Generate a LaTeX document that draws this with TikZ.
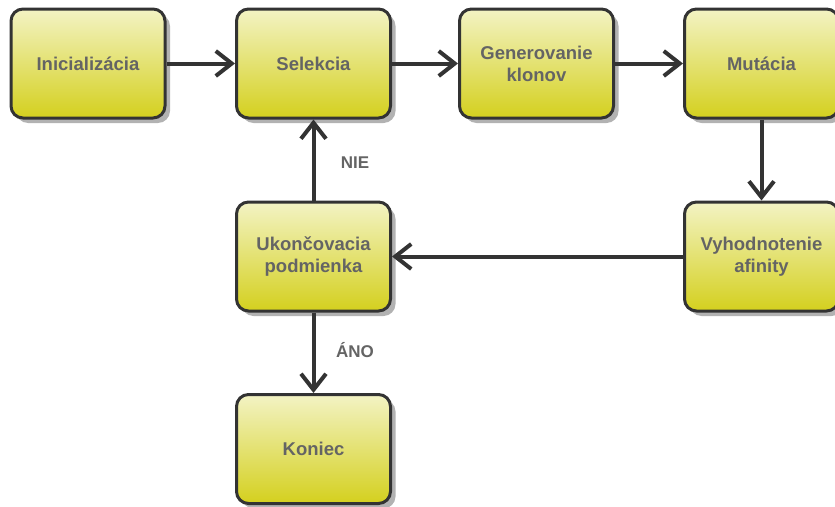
\documentclass[tikz,border=0pt]{standalone}
\usepackage{fontspec}
\setmainfont{Liberation Sans}
\usetikzlibrary{arrows.meta,shadows}
\definecolor{boxtop}{RGB}{243,243,196}
\definecolor{boxbot}{RGB}{212,208,30}
\definecolor{edgegray}{RGB}{51,51,51}
\definecolor{txtgray}{RGB}{100,100,100}

\begin{document}
\begin{tikzpicture}[x=1pt, y=-1pt,
	stage/.style={draw=edgegray, line width=3pt, rounded corners=12pt,
		top color=boxtop, bottom color=boxbot,
		minimum width=154pt, minimum height=109pt, align=center,
		text=txtgray, font=\fontsize{18.5}{22}\selectfont\bfseries,
		drop shadow={shadow xshift=5pt, shadow yshift=-5pt, fill=black!30, opacity=1}},
	answer/.style={text=txtgray, font=\fontsize{17}{20}\selectfont\bfseries},
	>={Straight Barb[length=16pt,width=25pt]},
	flow/.style={->, draw=edgegray, line width=4pt}]
	\useasboundingbox (0,0) rectangle (835,506);
	% main loop
	\node[stage] (init) at (88,63.5) {Inicializácia};
	\node[stage] (sel) at (313.5,63.5) {Selekcia};
	\node[stage] (gen) at (536.5,63.5) {Generovanie\\klonov};
	\node[stage] (mut) at (761.5,63.5) {Mutácia};
	\node[stage] (eval) at (761.5,256.5) {Vyhodnotenie\\afinity};
	\node[stage] (stop) at (313.5,256.5) {Ukončovacia\\podmienka};
	\node[stage] (end) at (313.5,449) {Koniec};
	\draw[flow] (init) -- (sel);
	\draw[flow] (sel) -- (gen);
	\draw[flow] (gen) -- (mut);
	\draw[flow] (mut) -- (eval);
	\draw[flow] (eval) -- (stop);
	\draw[flow] (stop) -- (sel);
	\draw[flow] (stop) -- (end);
	\node[answer] (no) at (355,163) {NIE};
	\node[answer] (yes) at (355,350) {ÁNO};
\end{tikzpicture}
\end{document}
